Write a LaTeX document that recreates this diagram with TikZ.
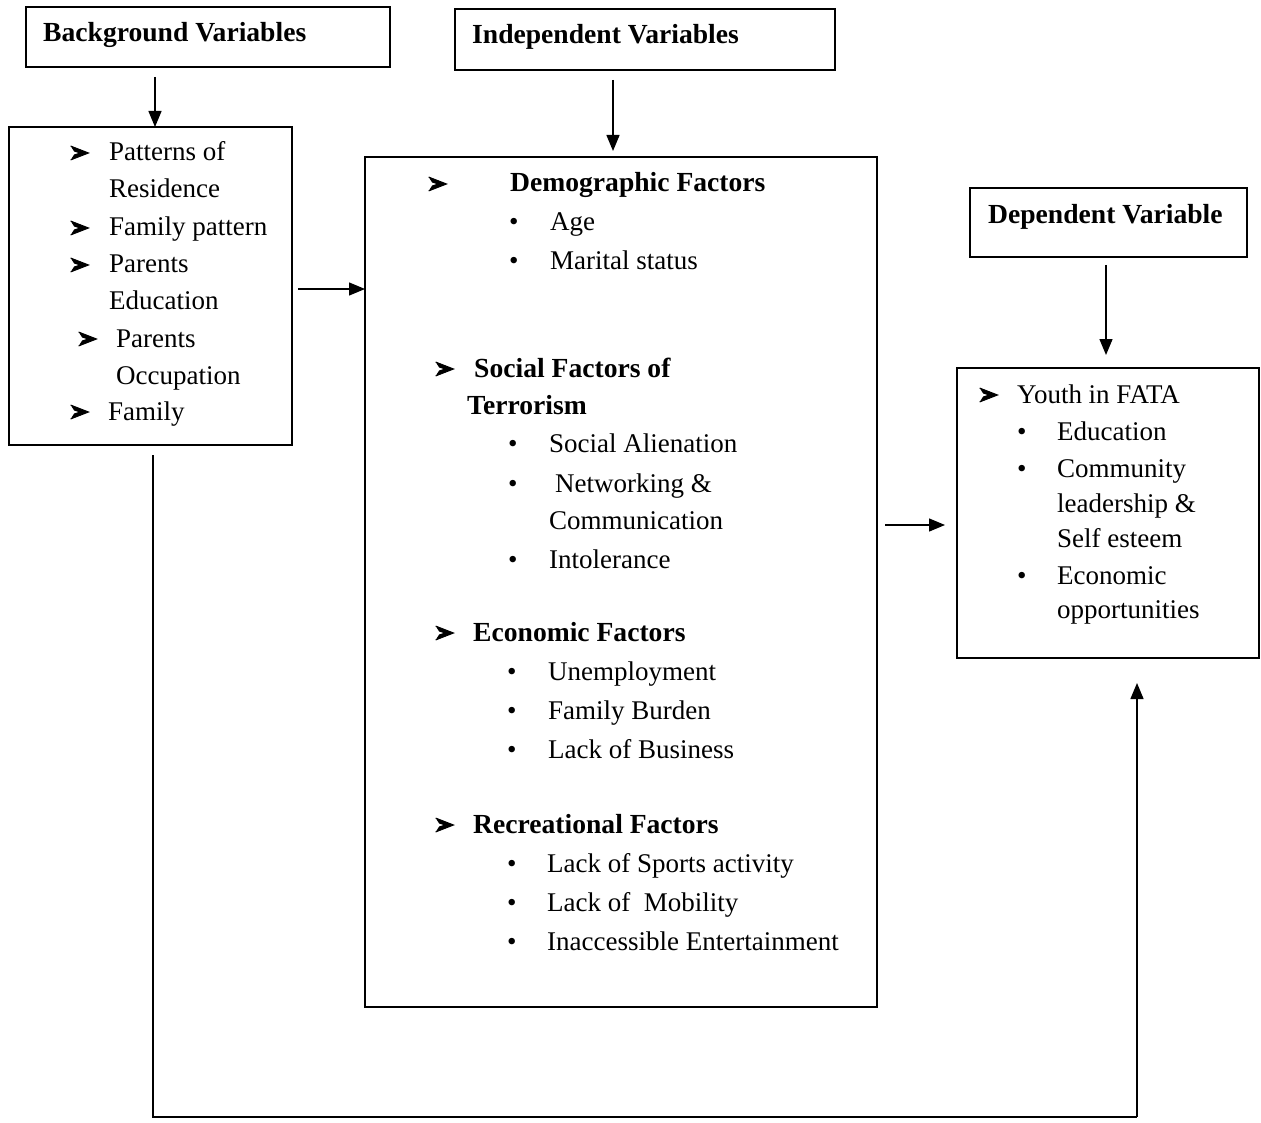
\documentclass[tikz,border=0pt]{standalone}
\usepackage{fontspec}
\setmainfont{Liberation Serif}
\usetikzlibrary{arrows.meta,calc}
\tikzset{
  box/.style={draw, line width=1.4pt, inner sep=0pt, outer sep=0pt, anchor=north west},
  txt/.style={anchor=base west, inner sep=0pt, font=\fontsize{27}{30}\selectfont},
  hd/.style={txt, font=\fontsize{27.6}{30}\selectfont\bfseries},
  mk/.style={anchor=base west, inner sep=0pt},
  bl/.style={anchor=base west, inner sep=0pt, font=\fontsize{27}{30}\selectfont},
  arr/.style={line width=1.4pt, -{Triangle[length=16pt,width=13pt]}},
  ln/.style={line width=1.4pt, line join=miter}
}
\newcommand{\arrmark}{\tikz[baseline=0pt,x=1pt,y=1pt]{%
  \fill (0,1) -- (18,8) -- (0,15) -- (3.5,9.5) -- (8,8) -- (3.5,6.5) -- cycle;
  \draw[line width=0.9pt] (0,1) -- (18,8) -- (0,15);}}
\begin{document}
\begin{tikzpicture}[x=1pt,y=-1pt]
\useasboundingbox[fill=white] (0,0) rectangle (1261,1123);

% boxes
\node[box, minimum width=364, minimum height=60] (bg) at (26,7) {};
\node[box, minimum width=380, minimum height=61] (iv) at (455,9) {};
\node[box, minimum width=283, minimum height=318] (lb) at (9,127) {};
\node[box, minimum width=512, minimum height=850] (mb) at (365,157) {};
\node[box, minimum width=277, minimum height=69] (dv) at (970,188) {};
\node[box, minimum width=302, minimum height=290] (rb) at (957,368) {};

% headers
\node[hd] (bgt) at (43,42) {Background Variables};
\node[hd] (ivt) at (472,44) {Independent Variables};
\node[hd] (dvt) at (988,224) {Dependent Variable};

% left box
\node[mk] (l1m) at (70,161) {\arrmark};
\node[txt] (l1) at (109,161) {Patterns of};
\node[txt] (l1b) at (109,198) {Residence};
\node[mk] (l2m) at (70,236) {\arrmark};
\node[txt] (l2) at (109,236) {Family pattern};
\node[mk] (l3m) at (70,273) {\arrmark};
\node[txt] (l3) at (109,273) {Parents};
\node[txt] (l3b) at (109,309) {Education};
\node[mk] (l4m) at (78,347) {\arrmark};
\node[txt] (l4) at (116,347) {Parents};
\node[txt] (l4b) at (116,384) {Occupation};
\node[mk] (l5m) at (70,420) {\arrmark};
\node[txt] (l5) at (108,420) {Family};

% middle box
\node[mk] (d0m) at (428,192) {\arrmark};
\node[hd] (d0) at (510,192) {Demographic Factors};
\node[bl] (d1m) at (509,231) {•};
\node[txt] (d1) at (550,231) {Age};
\node[bl] (d2m) at (509,270) {•};
\node[txt] (d2) at (550,270) {Marital status};

\node[mk] (s0m) at (435,377) {\arrmark};
\node[hd] (s0) at (474,377) {Social Factors of};
\node[hd] (s0b) at (467,414) {Terrorism};
\node[bl] (s1m) at (508,452) {•};
\node[txt] (s1) at (549,452) {Social Alienation};
\node[bl] (s2m) at (508,492) {•};
\node[txt] (s2) at (555,492) {Networking \&};
\node[txt] (s2b) at (549,529) {Communication};
\node[bl] (s3m) at (508,568) {•};
\node[txt] (s3) at (549,568) {Intolerance};

\node[mk] (e0m) at (435,641) {\arrmark};
\node[hd] (e0) at (473,641) {Economic Factors};
\node[bl] (e1m) at (507,680) {•};
\node[txt] (e1) at (548,680) {Unemployment};
\node[bl] (e2m) at (507,719) {•};
\node[txt] (e2) at (548,719) {Family Burden};
\node[bl] (e3m) at (507,758) {•};
\node[txt] (e3) at (548,758) {Lack of Business};

\node[mk] (r0m) at (435,833) {\arrmark};
\node[hd] (r0) at (473,833) {Recreational Factors};
\node[bl] (r1m) at (507,872) {•};
\node[txt] (r1) at (547,872) {Lack of Sports activity};
\node[bl] (r2m) at (507,911) {•};
\node[txt] (r2) at (547,911) {Lack of\ \ Mobility};
\node[bl] (r3m) at (507,950) {•};
\node[txt] (r3) at (547,950) {Inaccessible Entertainment};

% right box
\node[mk] (y0m) at (979,403) {\arrmark};
\node[txt] (y0) at (1017,403) {Youth in FATA};
\node[bl] (y1m) at (1017,440) {•};
\node[txt] (y1) at (1057,440) {Education};
\node[bl] (y2m) at (1017,477) {•};
\node[txt] (y2) at (1057,477) {Community};
\node[txt] (y2b) at (1057,512) {leadership \&};
\node[txt] (y2c) at (1057,547) {Self esteem};
\node[bl] (y3m) at (1017,584) {•};
\node[txt] (y3) at (1057,584) {Economic};
\node[txt] (y3b) at (1057,618) {opportunities};

% connectors
\draw[arr] ([shift={(129,10)}]bg.south west) -- ([shift={(146,0)}]lb.north west);
\draw[arr] ([shift={(158,10)}]iv.south west) -- ([shift={(248,-6)}]mb.north west);
\draw[arr] ([shift={(136,8)}]dv.south west) -- ([shift={(149,-13)}]rb.north west);
\draw[arr] ([shift={(6,162)}]lb.north east) -- ([shift={(0,132)}]mb.north west);
\draw[arr] ([shift={(8,368)}]mb.north east) -- ([shift={(-12,157)}]rb.north west);
\coordinate (c1) at (153,1117);
\coordinate (c2) at (1137,1117);
\draw[ln] ([shift={(144,10)}]lb.south west) -- (c1) -- (c2);
\draw[arr] (c2) -- ([shift={(180,25)}]rb.south west);
\end{tikzpicture}
\end{document}
